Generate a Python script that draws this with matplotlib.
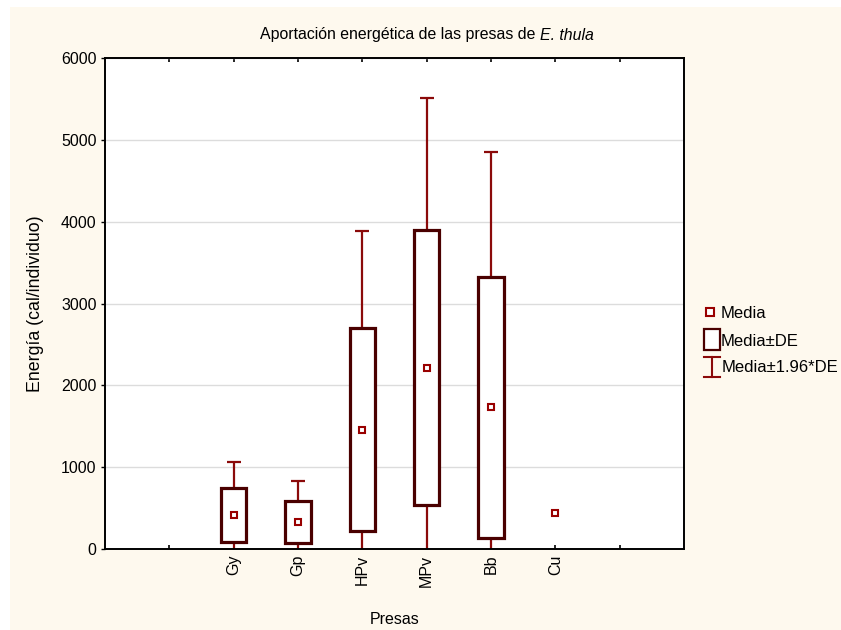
import matplotlib
matplotlib.use("Agg")
import matplotlib.pyplot as plt
from matplotlib.patches import Rectangle
from matplotlib.lines import Line2D
import numpy as np

plt.rcParams['font.family'] = ['Liberation Sans', 'DejaVu Sans']

categories = ["Gy", "Gp", "HPv", "MPv", "Bb", "Cu"]
means = [415, 330, 1455, 2215, 1730, 445]
sds = [330, 258, 1240, 1682, 1595, np.nan]
yticks = [0, 1000, 2000, 3000, 4000, 5000, 6000]
title_plain = "Aportación energética de las presas de "
title_italic = "E. thula"

BOX_C = "#4a0000"
WHISK_C = "#8b0a0a"
MEAN_C = "#990000"
BG = "#fef9ee"

W, H = 841, 630
fig = plt.figure(figsize=(W / 100, H / 100), dpi=100)
fig.patch.set_facecolor("white")
fig.add_artist(Rectangle((10 / W, 0), 1 - 10 / W, 1 - 7 / H, transform=fig.transFigure,
                         facecolor=BG, edgecolor="none", zorder=-10))

ax = fig.add_axes([105 / W, 1 - 549 / H, (684 - 105) / W, (549 - 58) / H])
ax.set_facecolor("white")

pos = np.arange(2, 2 + len(categories))
m = np.array(means, float)
s = np.array(sds, float)
ok = ~np.isnan(s)

# whiskers (mean ± 1.96 SD)
ax.errorbar(pos[ok], m[ok], yerr=1.96 * s[ok], fmt="none", ecolor=WHISK_C,
            elinewidth=1.6, capsize=4.8, capthick=1.6, zorder=2)
# boxes (mean ± SD)
bw = 0.39
for p, mm, ss in zip(pos[ok], m[ok], s[ok]):
    ax.add_patch(Rectangle((p - bw / 2, mm - ss), bw, 2 * ss, facecolor="white",
                           edgecolor=BOX_C, linewidth=2.3, zorder=3))
# means
ax.plot(pos, m, linestyle="none", marker="s", markersize=5, markerfacecolor="white",
        markeredgecolor=MEAN_C, markeredgewidth=1.5, zorder=4)

ax.set_xlim(0, 9)
ax.set_ylim(0, 6000)
ax.set_xticks(np.arange(1, 9))
ax.set_xticklabels([""] + categories + [""], rotation=90)
ax.set_yticks(yticks)
ax.set_yticklabels([str(v) for v in yticks])
ax.yaxis.grid(True, color="#dcdcdc", linewidth=1.0)
ax.set_axisbelow(True)
ax.tick_params(axis="x", direction="in", length=3, width=1.2, top=True, labelsize=11.5,
               pad=4)
ax.tick_params(axis="y", direction="out", length=3, width=1.0, labelsize=11.5, pad=3)
for sp in ax.spines.values():
    sp.set_linewidth(1.4)
    sp.set_color("black")

ax.set_xlabel("Presas", fontsize=11.5, labelpad=18)
ax.set_ylabel("Energía (cal/individuo)", fontsize=12.8, labelpad=12)

# title: plain + italic parts, centred at x=427 px
renderer = fig.canvas.get_renderer()
t1 = fig.text(0, 1 - 35 / H, title_plain, ha="left", va="center", fontsize=11.4)
t2 = fig.text(0, 1 - 35 / H, title_italic, ha="left", va="center", fontsize=11.4,
              fontstyle="italic")
w1 = t1.get_window_extent(renderer).width
w2 = t2.get_window_extent(renderer).width
x0 = 427 - (w1 + w2) / 2
t1.set_x(x0 / W)
t2.set_x((x0 + w1) / W)

# legend (manual)
def fx(x):
    return x / W

def fy(y):
    return 1 - y / H

LF = 12
fig.add_artist(Line2D([fx(710)], [fy(312)], marker="s", markersize=5.5, markerfacecolor="white",
                      markeredgecolor=MEAN_C, markeredgewidth=1.5, linestyle="none",
                      transform=fig.transFigure))
fig.text(fx(721), fy(313), "Media", ha="left", va="center", fontsize=LF)
fig.add_artist(Rectangle((fx(704), fy(350)), (720 - 704) / W, (350 - 329) / H,
                         transform=fig.transFigure, facecolor="white", edgecolor=BOX_C,
                         linewidth=1.6))
fig.text(fx(721), fy(342), "Media±DE", ha="left", va="center", fontsize=LF)
fig.add_artist(Line2D([fx(712), fx(712)], [fy(357), fy(377)], color=WHISK_C, linewidth=1.5,
                      transform=fig.transFigure))
for yy in (357, 377):
    fig.add_artist(Line2D([fx(704), fx(720)], [fy(yy), fy(yy)], color=WHISK_C,
                          linewidth=1.5, transform=fig.transFigure))
fig.text(fx(722), fy(368), "Media±1.96*DE", ha="left", va="center", fontsize=LF)

fig.savefig("out.png", dpi=100, facecolor=fig.get_facecolor())
